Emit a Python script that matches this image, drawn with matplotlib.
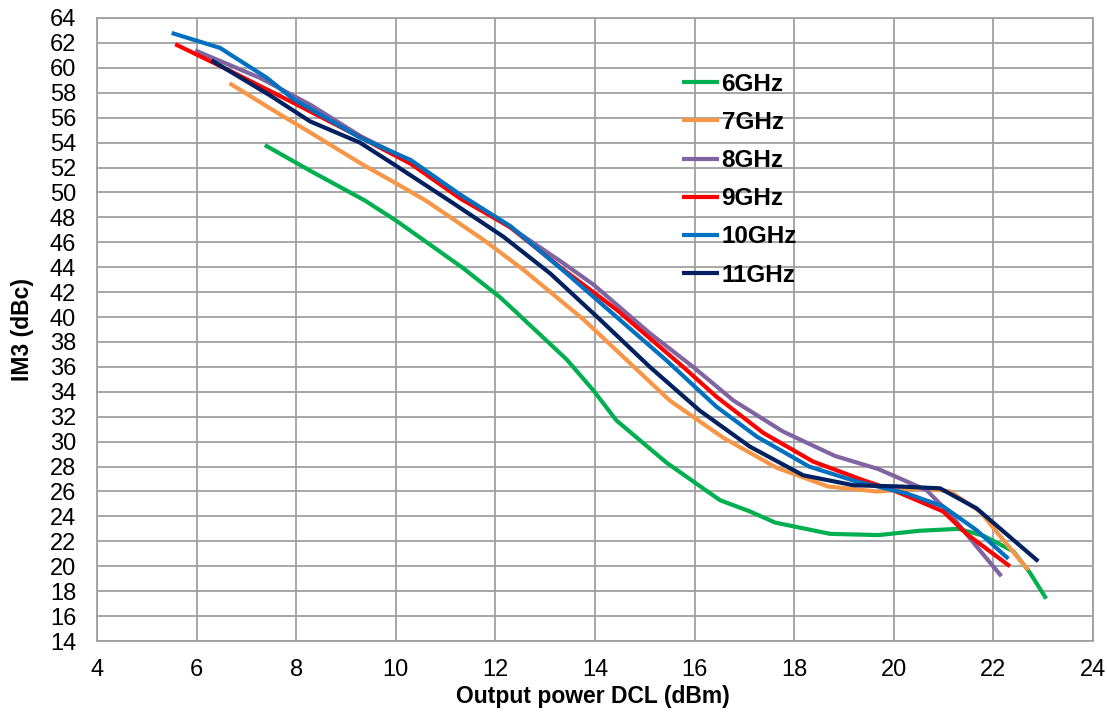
import matplotlib
matplotlib.use("Agg")
import matplotlib.pyplot as plt

plt.rcParams['font.family'] = ['Liberation Sans', 'DejaVu Sans']

labels = ["6GHz", "7GHz", "8GHz", "9GHz", "10GHz", "11GHz"]
colors = ["#00B050", "#F79646", "#8064A2", "#FF0000", "#0070C0", "#002060"]

x6 = [7.37, 8.3, 9.38, 10.02, 10.55, 11.36, 12.09, 12.36, 13.43, 13.97, 14.43, 15.44, 16.51, 17.11, 17.62, 18.72, 19.69, 20.53, 21.3, 21.8, 22.4, 22.73, 23.06]
y6 = [53.8, 51.7, 49.35, 47.7, 46.2, 43.9, 41.6, 40.6, 36.6, 34.1, 31.7, 28.3, 25.3, 24.4, 23.5, 22.6, 22.5, 22.85, 23.0, 22.45, 21.2, 19.5, 17.4]

x7 = [6.66, 7.74, 8.08, 9.35, 10.02, 10.62, 11.76, 12.56, 13.77, 15.5, 16.58, 17.65, 18.68, 19.65, 20.59, 21.13, 21.73, 22.2, 22.7]
y7 = [58.76, 56.1, 55.3, 52.2, 50.7, 49.3, 46.2, 43.8, 39.8, 33.3, 30.3, 27.9, 26.4, 26.0, 26.25, 26.0, 24.4, 22.1, 19.7]

x8 = [5.97, 7.27, 8.3, 9.3, 10.3, 11.3, 12.3, 13.3, 13.97, 15.1, 15.97, 16.78, 17.78, 18.82, 19.69, 20.12, 20.66, 21.13, 21.66, 22.16]
y8 = [61.4, 59.2, 57.0, 54.5, 52.5, 49.8, 47.2, 44.5, 42.6, 38.7, 36.0, 33.3, 30.8, 28.85, 27.8, 27.05, 26.1, 24.2, 21.6, 19.2]

x9 = [5.57, 6.6, 7.94, 9.3, 10.3, 11.3, 12.3, 13.3, 14.43, 15.77, 16.44, 17.38, 18.38, 19.39, 19.99, 20.99, 21.46, 22.33]
y9 = [61.9, 59.9, 57.2, 54.4, 52.3, 49.5, 47.2, 44.0, 40.6, 36.0, 33.6, 30.7, 28.4, 26.9, 26.1, 24.4, 22.6, 20.0]

x10 = [5.5, 6.47, 7.41, 7.94, 9.28, 10.3, 11.3, 12.3, 13.43, 15.44, 16.44, 17.25, 18.3, 19.25, 20.25, 20.99, 21.66, 22.3]
y10 = [62.8, 61.6, 59.2, 57.5, 54.4, 52.6, 49.8, 47.3, 43.5, 36.5, 32.8, 30.4, 28.0, 26.8, 25.85, 24.8, 22.9, 20.6]

x11 = [6.3, 7.47, 8.28, 9.28, 10.02, 11.09, 12.16, 13.1, 14.1, 15.1, 16.1, 17.11, 18.18, 19.19, 20.12, 20.93, 21.66, 22.2, 22.9]
y11 = [60.6, 57.8, 55.7, 54.0, 52.1, 49.3, 46.45, 43.5, 39.8, 36.0, 32.5, 29.6, 27.3, 26.5, 26.4, 26.25, 24.65, 22.8, 20.4]

xs = [x6, x7, x8, x9, x10, x11]
ys = [y6, y7, y8, y9, y10, y11]

xticks = list(range(4, 25, 2))
yticks = list(range(14, 65, 2))

fig = plt.figure(figsize=(11.07, 7.17), dpi=100)
ax = fig.add_axes([97/1107, 1-641/717, (1093-97)/1107, (641-18)/717])

for x, y, c, l in zip(xs, ys, colors, labels):
    ax.plot(x, y, color=c, lw=3, label=l, solid_capstyle='butt')

ax.set_xlim(4, 24)
ax.set_ylim(14, 64)
ax.set_xticks(xticks)
ax.set_yticks(yticks)
ax.grid(True, color='#A0A0A0', lw=1.3)
ax.set_axisbelow(True)
for s in ax.spines.values():
    s.set_color('#A0A0A0')
    s.set_linewidth(1.3)
ax.tick_params(axis='both', length=0, labelsize=17)
ax.tick_params(axis='y', pad=15)
ax.tick_params(axis='x', pad=13)
ax.set_xlabel("Output power DCL (dBm)", fontsize=16.5, fontweight='bold')
ax.set_ylabel("IM3 (dBc)", fontsize=16.5, fontweight='bold')
ax.xaxis.set_label_coords((593-97)/996, (641-697)/623)
ax.yaxis.set_label_coords((22-97)/996, 0.5)
ax.xaxis.label.set_va('center')
ax.yaxis.label.set_va('center')

leg = ax.legend(loc='upper left', bbox_to_anchor=((672-97)/996, 1-(63-18)/623),
                frameon=False, prop={'weight': 'bold', 'size': 17.5},
                handlelength=1.52, handletextpad=0.12, labelspacing=0.625, borderaxespad=0)

fig.savefig("out.png", dpi=100)
